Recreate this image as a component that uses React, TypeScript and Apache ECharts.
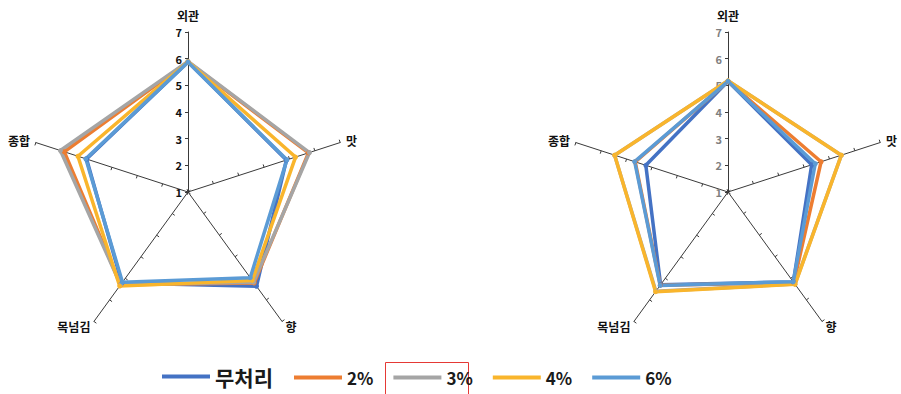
import React, { useEffect, useRef } from "react";
import * as echarts from "echarts";

// Axis categories, in reading order (clockwise from top)
const categories = ["외관", "맛", "향", "목넘김", "종합"];
const groups = ["무처리", "2%", "3%", "4%", "6%"];
const colors = ["#4472C4", "#ED7D31", "#A5A5A5", "#F9B52C", "#5B9BD5"];
const axisMin = 1;
const axisMax = 7;

// Left chart values (외관, 맛, 향, 목넘김, 종합)
const leftNone = [5.88, 4.88, 5.37, 5.22, 5.0];
const left2 = [5.88, 5.75, 5.22, 5.3, 5.88];
const left3 = [5.9, 5.79, 5.18, 5.3, 6.03];
const left4 = [5.88, 5.24, 5.1, 5.36, 5.34];
const left6 = [5.87, 4.9, 4.97, 5.18, 5.03];

// Right chart values (외관, 맛, 향, 목넘김, 종합)
const rightNone = [5.15, 4.3, 5.17, 5.3, 4.24];
const right2 = [5.15, 4.67, 5.2, 5.32, 4.66];
const right3 = [5.17, 5.47, 5.27, 5.6, 5.47];
const right4 = [5.17, 5.47, 5.28, 5.62, 5.47];
const right6 = [5.15, 4.44, 5.16, 5.33, 4.68];

const leftData = [leftNone, left2, left3, left4, left6];
const rightData = [rightNone, right2, right3, right4, right6];

// ECharts places indicators counter-clockwise from the top
const ecOrder = [0, 4, 3, 2, 1];

const FONT = "'Noto Sans CJK KR', 'Noto Sans', sans-serif";

function makeRadar(cx: number, labelColor: string) {
  return {
    center: [cx, 192],
    radius: 160,
    startAngle: 90,
    shape: "polygon",
    splitNumber: 6,
    indicator: ecOrder.map((i, k) => ({
      name: categories[i],
      min: axisMin,
      max: axisMax,
      ...(k === 0
        ? {
            nameGap: 11,
            axisLabel: {
              show: true,
              color: labelColor,
              fontSize: 11,
              fontWeight: "bold",
              fontFamily: FONT,
              margin: 6,
            },
          }
        : {}),
    })),
    nameGap: 6,
    axisName: {
      color: "#111",
      fontSize: 12,
      fontWeight: "bold",
      fontFamily: FONT,
    },
    axisLine: { show: true, lineStyle: { color: "#3a3a3a", width: 1 } },
    axisTick: { show: true, length: 3, lineStyle: { color: "#3a3a3a" } },
    axisLabel: { show: false },
    splitLine: { show: false },
    splitArea: { show: false },
  };
}

function makeSeries(radarIndex: number, data: number[][]) {
  return {
    type: "radar",
    radarIndex,
    symbol: "circle",
    symbolSize: 5,
    data: data.map((vals, g) => ({
      name: groups[g],
      value: ecOrder.map((i) => vals[i]),
      itemStyle: { color: colors[g] },
      lineStyle: { color: colors[g], width: 3.5 },
    })),
  };
}

export default function App() {
  const ref = useRef<HTMLDivElement>(null);
  useEffect(() => {
    if (!ref.current) return;
    const chart = echarts.init(ref.current, undefined, { renderer: "svg" });
    const legendBase = {
      icon: "rect",
      itemWidth: 48,
      itemHeight: 4,
      itemGap: 20,
      padding: 0,
    };
    chart.setOption({
      animation: false,
      backgroundColor: "#ffffff",
      radar: [makeRadar(188, "#111"), makeRadar(728, "#7f7f7f")],
      legend: [
        {
          ...legendBase,
          data: groups.slice(0, 1),
          left: 162,
          top: 366,
          textStyle: { color: "#1a1a1a", fontFamily: FONT, fontWeight: "bold", fontSize: 21 },
        },
        {
          ...legendBase,
          data: groups.slice(1),
          left: 294,
          top: 369,
          textStyle: { color: "#1a1a1a", fontFamily: FONT, fontWeight: "bold", fontSize: 17 },
        },
      ],
      graphic: [
        {
          type: "rect",
          shape: { x: 385.5, y: 362.5, width: 83, height: 40 },
          style: { fill: "none", stroke: "#e53935", lineWidth: 1 },
          silent: true,
        },
      ],
      series: [makeSeries(0, leftData), makeSeries(1, rightData)],
    });
    return () => chart.dispose();
  }, []);
  return (
    <div
      ref={ref}
      style={{ position: "fixed", left: 0, top: 0, width: 901, height: 394 }}
    />
  );
}
